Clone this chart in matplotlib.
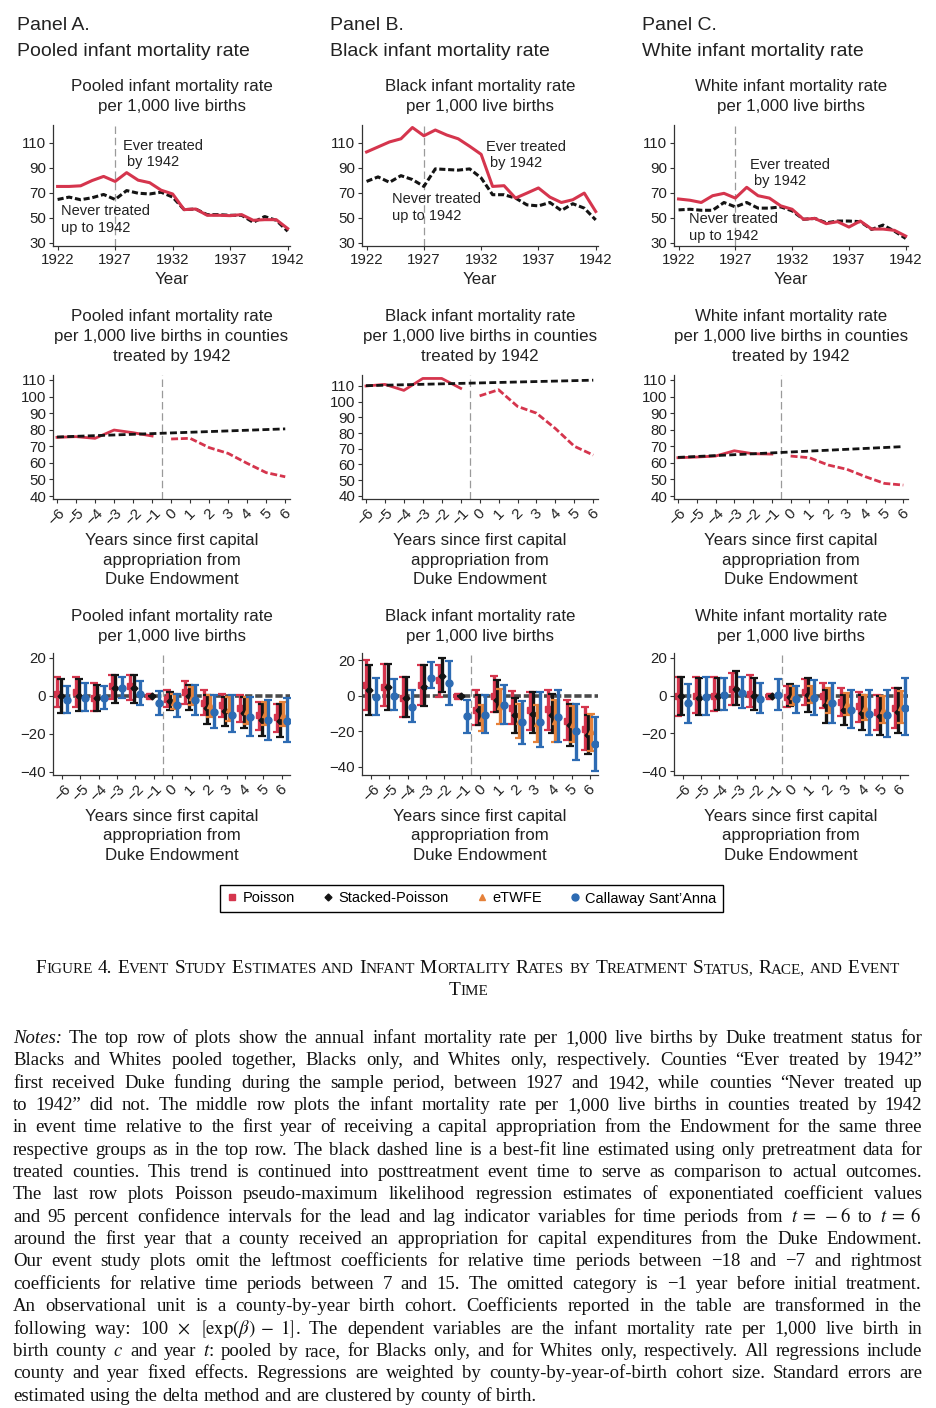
import matplotlib
matplotlib.use("Agg")
import matplotlib.pyplot as plt
from matplotlib.lines import Line2D

W, H = 936, 1408

# ---- top row: annual infant mortality rate, ever vs never treated ----
years = list(range(1922, 1943))
pooled_ever = [75, 75, 75.5, 79.7, 83, 79, 86, 80, 78, 72, 69, 56.5, 57, 52, 52, 51.7, 52.5, 48, 48.5, 48.5, 41.4]
pooled_never = [64.6, 66.5, 64.4, 66, 68.6, 64.6, 71.7, 69.6, 69, 70.4, 66.5, 56.5, 57, 52.5, 52.5, 52, 52, 46.4, 51, 48, 39.3]
black_ever = [102.5, 106.5, 110.5, 113, 122, 115.4, 120, 116, 113, 107, 100.6, 75, 75.6, 65.7, 69.7, 73.8, 66.5, 62.2, 64.4, 69.7, 55]
black_never = [79, 82.6, 78.3, 83.6, 80.5, 75, 89, 88.5, 88, 89, 81.8, 68.4, 68.4, 65.7, 60.3, 59.5, 62.2, 55.8, 61.2, 57.7, 48.3]
white_ever = [65, 64, 62.2, 67.6, 69.5, 65.7, 74.3, 67.6, 65.7, 59.5, 56.8, 48.8, 49.5, 45.3, 46.9, 42.6, 47.4, 41, 41, 40, 35.4]
white_never = [56.3, 56.8, 56, 56, 62.2, 58.7, 62.2, 57.7, 57.7, 58.7, 55.5, 48.8, 49.5, 46, 47.4, 47.4, 46.9, 40.7, 44.2, 39.4, 33.5]

# ---- middle row: treated counties in event time, with pretrend line ----
event_time = list(range(-6, 7))
event_pre = event_time[:6]
event_post = event_time[6:]
pooled_pre = [75.4, 75.8, 74.8, 79.8, 78.2, 76.2]
pooled_post = [74.4, 74.8, 69.2, 65.7, 59.7, 54.1, 51.6]
pooled_trend = [75.6, 80.5]
black_pre = [110, 111, 107.2, 114.8, 114.8, 108.5]
black_post = [103.7, 107.6, 97, 92.7, 82.9, 71.6, 66]
black_trend = [110.2, 113.7]
white_pre = [63.1, 63.5, 64.1, 67.3, 65.5, 65.3]
white_post = [64.1, 63.1, 58.7, 56.1, 51.6, 47.6, 46.6]
white_trend = [63.3, 69.8]

# ---- bottom row: event-study estimates (est, lo, hi) ----
pooled_pois = ([1, 2, -1, 5, 5, 0, -1.5, 2, -3.5, -5, -6.5, -10, -11],
               [-6, -6, -8, -1.5, -2, 0, -6, -4, -10, -11, -13.7, -18, -19],
               [10, 10, 7, 11, 11, 0, 3, 7.7, 3, 1, 0.3, -3, -4])
pooled_stack = ([0, 0, -1, 4, 4, 0, -2.5, 0, -6.5, -8, -9, -12.5, -13],
                [-9, -8, -8, -3.5, -3.5, 0, -7.5, -7.5, -15, -16, -17, -21, -21.5],
                [9, 9, 6, 11, 11, 0, 2, 6, 0.3, -0.5, -0.5, -4, -4.5])
pooled_etwfe = ([-3, -0.5, -5, -7, -8, -9.5, -10],
                [-7, -5, -11, -13, -15, -15.5, -16],
                [1, 4.7, 0.3, -0.5, -0.5, -3, -3])
pooled_cs = ([-2, -1, -1, 4, 1, -3.5, -5, -2, -8.5, -10, -11, -12.5, -13],
             [-9, -8, -7, -1, -5, -10, -11, -10, -17, -19, -21, -23, -24],
             [5, 7, 5, 10, 8, 2.5, 1, 5.5, 0.3, 0.3, -0.5, -2.3, -1])

black_pois = ([6, 5, -1, 6, 9, 0, -8, 0, -7, -8, -7.5, -14, -18.5],
              [-8, -6, -12, -5, -0.6, 0, -16.6, -9, -16, -19.4, -19.4, -25, -30.7],
              [20, 18, 10.6, 17, 17.5, 0, 3, 11, 2.5, 2, 3, -2.5, -6.3])
black_stack = ([3, 5, -1, 5, 11, 0, -8, -2.5, -11, -10, -11, -16.5, -22],
               [-10.6, -8, -12, -6, 2, 0, -16.6, -9, -20.7, -20.7, -21, -28, -32.5],
               [17.5, 18, 10.6, 17, 21, 0, 0.3, 8.7, -1.2, 2, 1.2, -4.4, -11])
black_etwfe = ([-12.5, -6, -14, -15.5, -14, -16, -20],
               [-20, -15.6, -24, -26, -26, -26, -31],
               [-5.3, 4, -4.4, -5.3, -2.5, -6, -10])
black_cs = ([-0.6, 0, -6.3, 10, 7, -11.3, -11, -5, -15, -14.5, -12, -20, -27],
            [-10.6, -8, -15, 4.4, -5.3, -21, -20.7, -16, -27, -28.8, -26, -36, -42.5],
            [10, 9.3, 3, 19, 19.5, -2.5, 0.3, 6.3, -3, 2, 3, -4.4, -12])

white_pois = ([0, 0, 0, 3.5, 1, 0, -0.5, 2, 0, -3.5, -5.5, -8.5, -6.5],
              [-10.5, -9.3, -8, -5, -5.8, 0, -5.8, -5, -6.6, -11, -13.7, -18, -17.3],
              [9.7, 9.7, 9.7, 12, 10.8, 0, 5, 9, 6.7, 4, 2.2, 0.5, 4])
white_stack = ([0, -1, 0, 3.5, 0, 0, -0.5, 0.5, -5, -7.5, -9, -11, -8.5],
               [-10, -10, -7.5, -5, -7.5, 0, -5.2, -8.4, -14.6, -15.5, -18, -21, -20],
               [10, 9.3, 9.3, 13, 9.3, 0, 6, 9.3, 3, 0.5, 0.5, -0.4, 4])
white_etwfe = ([0, 0.5, -2.5, -4.5, -6.5, -7.5, -6],
               [-5, -4, -9.3, -10, -13, -14.6, -14.6],
               [5, 5, 4, 1.3, 0.5, -0.4, 2.6])
white_cs = ([-4, -0.5, 0.5, 1.5, -1.5, 0.5, -2, -1, -4, -7.5, -9.5, -10, -6.5],
            [-14.6, -10, -7.5, -6.3, -9.3, -7.5, -9.3, -10.2, -14.6, -17.3, -21, -21.7, -21],
            [6, 9.7, 9.3, 9.7, 6.7, 9, 5, 8.5, 6.7, 3, 3, 3, 9.3])

panel_heads = ["Panel A.", "Panel B.", "Panel C."]
panel_names = ["Pooled infant mortality rate", "Black infant mortality rate", "White infant mortality rate"]
legend_labels = ["Poisson", "Stacked-Poisson", "eTWFE", "Callaway Sant\u2019Anna"]

RED = "#d5354d"
BLACK = "#141414"
ORANGE = "#e5813a"
BLUE = "#2d6bb3"
GRAY = "#9a9a9a"
TXT = "#222222"
SANS = ["Liberation Sans", "DejaVu Sans"]
SERIF = ["Liberation Serif", "DejaVu Serif"]

plt.rcParams["font.family"] = SANS
plt.rcParams["mathtext.fontset"] = "stix"

fig = plt.figure(figsize=(W / 100, H / 100), dpi=100)


def px_axes(x0, y0, x1, y1):
    return fig.add_axes([x0 / W, 1 - y1 / H, (x1 - x0) / W, (y1 - y0) / H])


def ftext(x, y, s, **kw):
    kw.setdefault("color", TXT)
    return fig.text(x / W, 1 - y / H, s, **kw)


def stack(x, y, lines, size, step=20, ha="center"):
    for i, line in enumerate(lines):
        ftext(x, y + i * step, line, fontsize=size, ha=ha, va="center")


def style_axes(ax):
    for side in ("top", "right"):
        ax.spines[side].set_visible(False)
    for side in ("left", "bottom"):
        ax.spines[side].set_color("#333333")
        ax.spines[side].set_linewidth(0.9)
    ax.tick_params(length=3, width=0.8, color="#333333", labelcolor=TXT,
                   labelsize=10.8, pad=2)


cols = [(53, 290), (362, 598), (674, 908)]
heads_x = [17, 330, 642]

# panel headers
for hx, head, name in zip(heads_x, panel_heads, panel_names):
    ftext(hx, 26, head, fontsize=14, ha="left", va="center")
    ftext(hx, 51, name, fontsize=14, ha="left", va="center")

# ---- top row ----
top_series = [(pooled_ever, pooled_never), (black_ever, black_never), (white_ever, white_never)]
ann_pos = [((123, 146), (61, 211)), ((486, 147), (392, 199)), ((750, 165), (689, 219))]
for (x0, x1), (ever, never), name, ((ex, ey), (nx, ny)) in zip(cols, top_series, panel_names, ann_pos):
    ax = px_axes(x0, 125, x1, 246)
    style_axes(ax)
    ax.axvline(1927, color=GRAY, lw=0.9, dashes=(6, 3), zorder=1)
    ax.plot(years, never, color=BLACK, lw=2.2, dashes=(2, 0.9), zorder=2)
    ax.plot(years, ever, color=RED, lw=2.2, zorder=3)
    ax.set_xlim(1921.6, 1942.2)
    ax.set_ylim(27.5, 124)
    ax.set_xticks([1922, 1927, 1932, 1937, 1942])
    ax.set_yticks([30, 50, 70, 90, 110])
    cx = (x0 + x1) / 2
    stack(cx, 87, [name, "per 1,000 live births"], 12.2)
    stack(cx, 280, ["Year"], 12.2)
    ftext(ex, ey, "Ever treated", fontsize=10.5, ha="left", va="center")
    ftext(ex + 4, ey + 16, "by 1942", fontsize=10.5, ha="left", va="center")
    ftext(nx, ny, "Never treated", fontsize=10.5, ha="left", va="center")
    ftext(nx, ny + 17, "up to 1942", fontsize=10.5, ha="left", va="center")

# ---- middle row ----
mid_series = [(pooled_pre, pooled_post, pooled_trend), (black_pre, black_post, black_trend),
              (white_pre, white_post, white_trend)]
mid_ylims = [(38.2, 113), (38, 117), (38.2, 113)]
xlabel_lines = ["Years since first capital", "appropriation from", "Duke Endowment"]
for (x0, x1), (pre, post, trend), name, ylim in zip(cols, mid_series, panel_names, mid_ylims):
    ax = px_axes(x0, 375, x1, 499)
    style_axes(ax)
    ax.axvline(-0.5, color=GRAY, lw=0.9, dashes=(6, 3), zorder=1)
    ax.plot(event_pre, pre, color=RED, lw=2, zorder=2)
    ax.plot(event_post, post, color=RED, lw=2, dashes=(2.5, 1), zorder=2)
    ax.plot([event_time[0], event_time[-1]], trend, color=BLACK, lw=2, dashes=(2.5, 1.2), zorder=3)
    ax.set_xlim(-6.21, 6.25)
    ax.set_ylim(*ylim)
    ax.set_xticks(event_time)
    ax.set_yticks(range(40, 111, 10))
    ax.tick_params(axis="x", labelrotation=45, labelsize=11)
    cx = (x0 + x1) / 2
    stack(cx, 316, [name, "per 1,000 live births in counties", "treated by 1942"], 12.2)
    stack(cx, 540, xlabel_lines, 12.2)

# ---- bottom row ----
bot_series = [(pooled_pois, pooled_stack, pooled_etwfe, pooled_cs),
              (black_pois, black_stack, black_etwfe, black_cs),
              (white_pois, white_stack, white_etwfe, white_cs)]
bot_ylims = [(-41.6, 22.6), (-44.5, 24), (-42, 22.6)]
est_styles = [(RED, "s", 4, -0.27), (BLACK, "D", 3.5, -0.09), (ORANGE, "^", 4.5, 0.09), (BLUE, "o", 5, 0.27)]
for (x0, x1), series, name, ylim in zip(cols, bot_series, panel_names, bot_ylims):
    ax = px_axes(x0, 653, x1, 775)
    style_axes(ax)
    ax.axhline(0, color="#4a4a4a", lw=2.6, dashes=(2, 0.8), zorder=1)
    ax.axvline(-0.5, color=GRAY, lw=0.9, dashes=(6, 3), zorder=1)
    for k, ((est, lo, hi), (c, m, ms, off)) in enumerate(zip(series, est_styles)):
        xs = event_post if len(est) == len(event_post) else event_time
        yerr = [[e - l for e, l in zip(est, lo)], [h - e for e, h in zip(est, hi)]]
        ax.errorbar([t + off for t in xs], est, yerr=yerr, fmt=m, color=c, ecolor=c,
                    ms=ms, elinewidth=2.4, capsize=3, capthick=1.6, zorder=2 + k)
    ax.set_xlim(-6.5, 6.45)
    ax.set_ylim(*ylim)
    ax.set_xticks(event_time)
    ax.set_yticks([-40, -20, 0, 20])
    ax.tick_params(axis="x", labelrotation=45, labelsize=11)
    cx = (x0 + x1) / 2
    stack(cx, 616, [name, "per 1,000 live births"], 12.2)
    stack(cx, 816, xlabel_lines, 12.2, step=19.5)

# ---- legend ----
handles = [Line2D([], [], ls="", marker=m, color=c, ms=ms) for c, m, ms, _ in est_styles]
fig.legend(handles, legend_labels, loc="center", ncol=4, mode="expand",
           bbox_to_anchor=(220 / W, 1 - 913 / H, 503 / W, 29 / H), borderaxespad=0,
           fontsize=10.5, frameon=True, fancybox=False, edgecolor="black", framealpha=1,
           handletextpad=0.3, handlelength=0.8, borderpad=0.45)

# ---- caption and notes (serif, laid out word by word) ----
renderer = fig.canvas.get_renderer()


def width_of(art):
    return art.get_window_extent(renderer).width


def space_width(size):
    a = fig.text(0, 0, "a a", fontsize=size, family=SERIF)
    b = fig.text(0, 0, "aa", fontsize=size, family=SERIF)
    w = width_of(a) - width_of(b)
    a.remove()
    b.remove()
    return w


caption = ["Figure 4. Event Study Estimates and Infant Mortality Rates by Treatment Status, Race, and Event",
           "Time"]


def smallcaps_arts(line, y, big, small):
    arts = []
    for wi, word in enumerate(line.split(" ")):
        segs = []
        for ch in word:
            low = ch.islower()
            if segs and (segs[-1][1] == low or not ch.isalpha()):
                segs[-1][0] += ch.upper()
            else:
                segs.append([ch.upper(), low])
        for si, (s, low) in enumerate(segs):
            art = fig.text(0, 1 - y / H, s, family=SERIF, fontsize=small if low else big,
                           ha="left", va="baseline", color="#111111")
            arts.append((art, low, si == 0 and wi > 0))
    return arts


def layout_smallcaps(arts, center, big, small):
    sp = space_width(big)
    for art, low, _ in arts:
        art.set_fontsize(small if low else big)
    widths = [width_of(a) for a, _, _ in arts]
    total = sum(widths) + sp * sum(1 for _, _, ws in arts if ws)
    x = center - total / 2
    for (art, _, ws), w in zip(arts, widths):
        if ws:
            x += sp
        art.set_x(x / W)
        x += w
    return total


big, small = 13.0, 10.2
cap_arts = [smallcaps_arts(line, y, big, small) for line, y in zip(caption, [973, 995])]
natural = layout_smallcaps(cap_arts[0], 468, big, small)
scale = 865 / natural
for arts in cap_arts:
    layout_smallcaps(arts, 468, big * scale, small * scale)

notes = [
    "*Notes:* The top row of plots show the annual infant mortality rate per 1,000 live births by Duke treatment status for",
    "Blacks and Whites pooled together, Blacks only, and Whites only, respectively. Counties \u201cEver treated by 1942\u201d",
    "first received Duke funding during the sample period, between 1927 and 1942, while counties \u201cNever treated up",
    "to 1942\u201d did not. The middle row plots the infant mortality rate per 1,000 live births in counties treated by 1942",
    "in event time relative to the first year of receiving a capital appropriation from the Endowment for the same three",
    "respective groups as in the top row. The black dashed line is a best-fit line estimated using only pretreatment data for",
    "treated counties. This trend is continued into posttreatment event time to serve as comparison to actual outcomes.",
    "The last row plots Poisson pseudo-maximum likelihood regression estimates of exponentiated coefficient values",
    r"and 95 percent confidence intervals for the lead and lag indicator variables for time periods from $t\;=\;-6$ to $t\;=\;6$",
    "around the first year that a county received an appropriation for capital expenditures from the Duke Endowment.",
    "Our event study plots omit the leftmost coefficients for relative time periods between \u221218 and \u22127 and rightmost",
    "coefficients for relative time periods between 7 and 15. The omitted category is \u22121 year before initial treatment.",
    "An observational unit is a county-by-year birth cohort. Coefficients reported in the table are transformed in the",
    r"following way: 100 $\times$ $\left[\exp(\beta)\;-\;1\right]$. The dependent variables are the infant mortality rate per 1,000 live birth in",
    r"birth county $c$ and year $t$: pooled by race, for Blacks only, and for Whites only, respectively. All regressions include",
    "county and year fixed effects. Regressions are weighted by county-by-year-of-birth cohort size. Standard errors are",
    "estimated using the delta method and are clustered by county of birth.",
]
LEFT, RIGHT = 13, 922
base = 13.0
note_arts = []
for i, line in enumerate(notes):
    y = 1043 + i * 22.35
    arts = []
    for word in line.split(" "):
        italic = word.startswith("*") and word.endswith("*")
        arts.append(fig.text(0, 1 - y / H, word.strip("*") if italic else word, fontsize=base,
                             family=SERIF, style="italic" if italic else "normal",
                             ha="left", va="baseline", color="#111111"))
    note_arts.append(arts)

sp = space_width(base)
widest = max(sum(width_of(a) for a in arts) + sp * (len(arts) - 1) for arts in note_arts)
size = min(13.5, base * (RIGHT - LEFT) * 0.99 / widest)
sp = space_width(size)
for i, arts in enumerate(note_arts):
    for a in arts:
        a.set_fontsize(size)
    widths = [width_of(a) for a in arts]
    last = i == len(note_arts) - 1
    gap = sp if last else (RIGHT - LEFT - sum(widths)) / (len(arts) - 1)
    x = LEFT
    for a, w in zip(arts, widths):
        a.set_x(x / W)
        x += w + gap

fig.savefig("out.png", dpi=100)
